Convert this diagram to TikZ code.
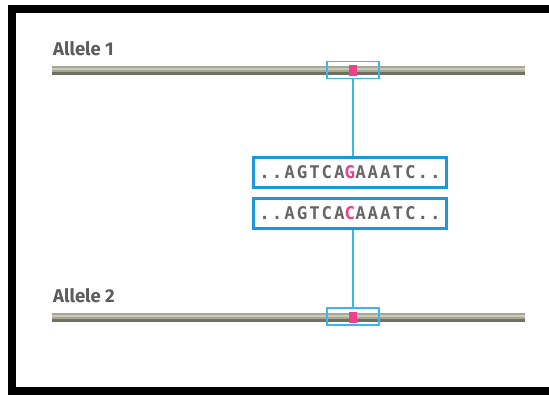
\documentclass[tikz,border=0pt]{standalone}
\usepackage{fontspec}
\setsansfont{Fira Sans}
\newfontfamily\seqfont{DejaVu Sans Mono}[LetterSpace=11]
\begin{document}
\begin{tikzpicture}[x=1pt,y=-1pt,
  lbl/.style={font=\sffamily\bfseries\fontsize{18.5}{18.5}\selectfont, text=black!64, anchor=base west, inner sep=0pt},
  seqbox/.style={draw=seqblue, line width=3.6pt, minimum width=193pt, minimum height=30pt, inner sep=0pt,
    font=\seqfont\bfseries\fontsize{17.5}{17.5}\selectfont, text=black!60},
  hilite/.style={draw=hiblue, line width=1.1pt, minimum width=52pt, minimum height=17pt, inner sep=0pt},
  link/.style={draw=hiblue, line width=1.1pt}]
\definecolor{seqblue}{HTML}{1A98DA}
\definecolor{hiblue}{HTML}{3CB6EC}
\definecolor{snp}{HTML}{EE3F8C}
\definecolor{barlight}{HTML}{C9CABA}
\definecolor{barmid}{HTML}{A7A894}
\definecolor{bardark}{HTML}{6E7062}
\useasboundingbox (0,0) rectangle (549,395);
\fill[white] (0,0) rectangle (549,395);
% outer frame (open on the right)
\draw[line width=8pt] (549,9) -- (12,9) -- (12,391) -- (549,391);
% chromosome bars
\foreach \y in {66,313}{
  \fill[barmid] (52,\y) rectangle (525,\y+9);
  \fill[barlight] (52,\y+2) rectangle (525,\y+4.5);
  \fill[bardark] (52,\y+6) rectangle (525,\y+9);
}
\node[lbl] (l1) at (53,56) {Allele 1};
\node[lbl] (l2) at (53,303) {Allele 2};
% polymorphic sites
\fill[snp] (349,65) rectangle (357,76);
\fill[snp] (349,312) rectangle (357,323);
\node[hilite] (h1) at (353,70) {};
\node[hilite] (h2) at (353,316.5) {};
% sequences
\node[seqbox] (s1) at (350,172.5) {..AGTCA\textcolor{snp}{G}AAATC..};
\node[seqbox] (s2) at (350,213.5) {..AGTCA\textcolor{snp}{C}AAATC..};
\draw[link] (h1.south) -- (h1.south |- s1.north);
\draw[link] (h2.north |- s2.south) -- (h2.north);
\end{tikzpicture}
\end{document}
